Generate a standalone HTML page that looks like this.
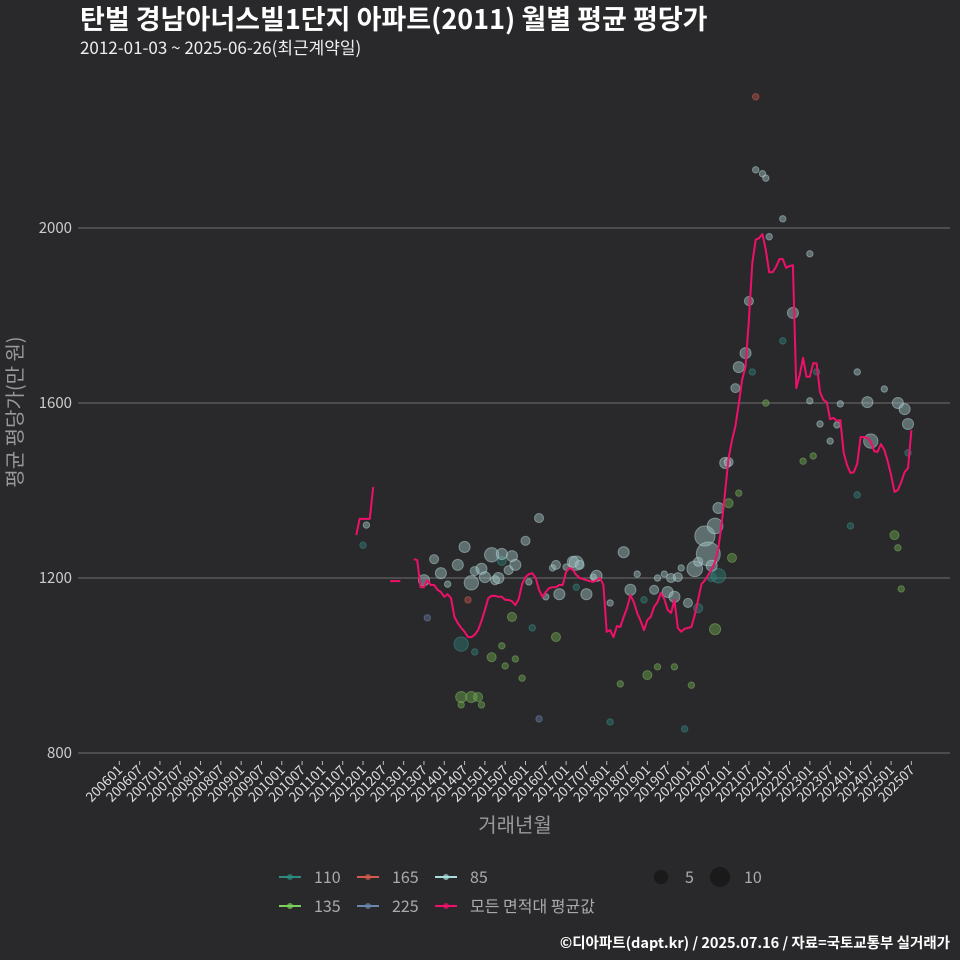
<!DOCTYPE html>
<html><head><meta charset="utf-8">
<style>
html,body{margin:0;padding:0;background:#29292b;}
body{width:960px;height:960px;overflow:hidden;font-family:"Noto Sans CJK KR","Liberation Sans",sans-serif;}
svg{display:block}
</style></head>
<body>
<svg id="chart" width="960" height="960" xmlns="http://www.w3.org/2000/svg" font-family="'Noto Sans CJK KR','Liberation Sans',sans-serif">
<rect width="960" height="960" fill="#29292b"/>
<text x="80" y="29" fill="#fff" font-size="27" font-weight="bold">탄벌 경남아너스빌1단지 아파트(2011) 월별 평균 평당가</text>
<text x="80" y="54" fill="#eee" font-size="17">2012-01-03 ~ 2025-06-26(최근계약일)</text>
<g id="grid"></g>
<g id="xaxis"></g>
<g id="yaxis"></g>
<g id="points"></g>
<g id="lines"></g>
<text x="22" y="412" fill="#999" font-size="20" text-anchor="middle" transform="rotate(-90 22 412)">평균 평당가(만 원)</text>
<text x="515" y="832" fill="#999" font-size="20" text-anchor="middle">거래년월</text>
<g id="legend"></g>
<text x="950" y="948" fill="#fff" font-size="14.5" font-weight="bold" text-anchor="end">©디아파트(dapt.kr) / 2025.07.16 / 자료=국토교통부 실거래가</text>
</svg>
<script>
// ---- data ----
const yTicks = [800, 1200, 1600, 2000];
const startYear = 2006, monthCount = 235; // 200601..202507
const avgSeg1Start = 70;
const avgSeg1 = [1298,1335,1335,1335,1335,1408];
const avgSeg2Start = 80;
const avgSeg2 = [1193,1193,1193,1193];
const avgSeg3Start = 87;
const avgSeg3 = [1243,1241,1179,1179,1195,1184,1184,1173,1168,1157,1163,1154,1111,1097,1086,1077,1065,1065,1070,1081,
1102,1127,1154,1159,1159,1157,1157,1150,1150,1147,1138,1152,1186,1202,1209,1211,1200,1173,1157,1168,
1177,1179,1179,1184,1184,1214,1223,1218,1207,1200,1198,1195,1193,1191,1195,1200,1184,1077,1081,1065,
1090,1088,1111,1131,1161,1145,1120,1102,1081,1104,1111,1134,1145,1166,1152,1127,1120,1150,1086,1077,
1084,1086,1088,1115,1150,1186,1195,1207,1221,1237,1269,1326,1399,1474,1515,1547,1598,1653,1682,1790,
1920,1973,1977,1986,1950,1899,1899,1911,1929,1929,1909,1913,1915,1634,1664,1703,1660,1660,1691,1691,
1625,1607,1602,1563,1566,1559,1561,1486,1458,1440,1442,1461,1522,1522,1520,1511,1490,1488,1506,1493,
1467,1435,1397,1401,1419,1442,1451,1538];
const s85Month = [73,90,93,95,97,100,102,104,105,107,108,110,111,112,113,115,116,117,120,121,124,126,128,129,130,132,134,135,136,138,140,141,145,149,151,153,158,159,161,162,163,164,165,166,168,170,171,173,174,175,176,177,179,180,182,183,185,186,188,190,191,192,196,199,204,204,207,210,212,213,218,221,222,226,230,232,233];
const s85Value = [1321,1195,1243,1211,1186,1230,1271,1189,1216,1221,1202,1253,1195,1200,1255,1218,1250,1230,1285,1191,1337,1157,1223,1230,1163,1225,1237,1234,1230,1163,1202,1205,1143,1259,1173,1209,1173,1200,1209,1168,1200,1157,1202,1223,1143,1221,1237,1296,1255,1228,1319,1360,1463,1465,1634,1682,1714,1833,2133,2124,2114,1980,2021,1806,1605,1941,1552,1513,1550,1598,1671,1602,1513,1632,1600,1586,1552];
const s85Count = [1,3,2,3,1,3,3,5,2,3,3,5,2,3,3,2,3,3,2,1,2,1,1,2,3,1,3,5,2,3,1,3,1,3,3,1,2,1,1,3,2,3,2,1,2,6,2,10,14,3,6,3,3,2,2,3,3,2,1,1,1,1,1,3,1,1,1,1,1,1,1,3,5,1,3,3,3];
const s110Month = [72,101,105,113,122,135,145,155,167,171,175,177,187,196,206,216,218,233];
const s110Value = [1275,1049,1031,1239,1086,1179,871,1150,855,1131,1202,1205,1671,1742,1671,1319,1390,1486];
const s110Count = [1,5,1,2,1,1,1,1,1,2,2,5,1,1,1,1,1,1];
const s135Month = [101,104,106,101,107,110,116,113,114,117,119,129,148,156,159,164,169,176,181,180,183,191,202,205,229,230,231];
const s135Value = [928,928,928,910,910,1019,1111,1045,999,1015,971,1065,958,978,997,997,955,1083,1246,1371,1394,1600,1467,1479,1298,1269,1175];
const s135Count = [3,3,2,1,1,2,2,1,1,1,1,2,1,2,1,1,1,3,2,2,1,1,1,1,2,1,1];
const s165Month = [103,188];
const s165Value = [1150,2300];
const s165Count = [1,1];
const s225Month = [91,124];
const s225Value = [1109,878];
const s225Count = [1,1];

// ---- scales ----
const NS = "http://www.w3.org/2000/svg";
const xOf = m => 119.3 + m * 3.385;
const yOf = v => 753 - (v - 800) * 0.4375;
const rOf = c => Math.sqrt(c) * 3.2;
function mk(tag, attrs, parent){const e=document.createElementNS(NS,tag);for(const k in attrs)e.setAttribute(k,attrs[k]);parent.appendChild(e);return e;}

const grid=document.getElementById('grid'), yax=document.getElementById('yaxis');
yTicks.forEach(v=>{
  const l=mk('line',{x1:78,x2:950,y1:yOf(v),y2:yOf(v),stroke:'#6e6e6e','stroke-width':1},grid);
  
  
  const t=mk('text',{x:72,y:yOf(v)+5,fill:'#ccc','font-size':15,'text-anchor':'end'},yax);
  t.textContent=v;
  
  
});
const xax=document.getElementById('xaxis');
for(let m=0;m<monthCount;m+=6){
  const x=xOf(m);
  const lab=String(startYear+Math.floor(m/12))+String(m%12+1).padStart(2,'0');
  const tk=mk('line',{x1:x,x2:x,y1:761,y2:765,stroke:'#bbb','stroke-width':1},xax);
  
  
  const t=mk('text',{x:x+4,y:771,fill:'#ddd','font-size':13.5,'text-anchor':'end',transform:`rotate(-45 ${x+4} 771)`},xax);
  t.textContent=lab;
  
  
}
const pts=document.getElementById('points');
function drawSeries(ms,vs,cs,fill,stroke,name){
  ms.forEach((m,i)=>{
    const c=mk('circle',{cx:xOf(m),cy:yOf(vs[i]),r:rOf(cs[i]),fill:fill,'fill-opacity':0.45,stroke:stroke,'stroke-opacity':0.45,'stroke-width':1},pts);
    
    
  });
}
drawSeries(s110Month,s110Value,s110Count,'#2e7f78','#3c9a90','110');
drawSeries(s135Month,s135Value,s135Count,'#6ea84e','#86c466','135');
drawSeries(s165Month,s165Value,s165Count,'#c0504a','#d86a60','165');
drawSeries(s225Month,s225Value,s225Count,'#607aa0','#7890b8','225');
drawSeries(s85Month,s85Value,s85Count,'#a0c4c4','#c0e0e0','85');
const lines=document.getElementById('lines');
[[avgSeg1Start,avgSeg1],[avgSeg2Start,avgSeg2],[avgSeg3Start,avgSeg3]].forEach((s,k)=>{
  const d=s[1].map((v,i)=>(i?'L':'M')+xOf(s[0]+i).toFixed(1)+' '+yOf(v).toFixed(1)).join(' ');
  const p=mk('path',{d:d,fill:'none',stroke:'#f0106a','stroke-width':2,'stroke-linejoin':'round'},lines);
  
  
});
const lg=document.getElementById('legend');
const legItems=[['110','#2e8b80',290,877],['165','#d05a50',368,877],['85','#a8dede',446,877],['135','#7ad05a',290,906],['225','#6888b0',368,906],['모든 면적대 평균값','#f0106a',446,906]];
legItems.forEach(it=>{
  const g=mk('g',{},lg);
  
  
  mk('line',{x1:it[2]-11,x2:it[2]+11,y1:it[3],y2:it[3],stroke:it[1],'stroke-width':2},g);
  mk('circle',{cx:it[2],cy:it[3],r:3,fill:it[1],'fill-opacity':0.7},g);
  const t=mk('text',{x:it[2]+24,y:it[3]+6,fill:'#aaa','font-size':16},g);
  t.textContent=it[0];
});
[[5,661,'5'],[10,720,'10']].forEach(s=>{
  const g=mk('g',{},lg);
  
  
  mk('circle',{cx:s[1],cy:877,r:rOf(s[0]),fill:'#1a1a1a'},g);
  const t=mk('text',{x:s[1]+24,y:883,fill:'#aaa','font-size':16},g);
  t.textContent=s[2];
});
</script>
</body></html>
